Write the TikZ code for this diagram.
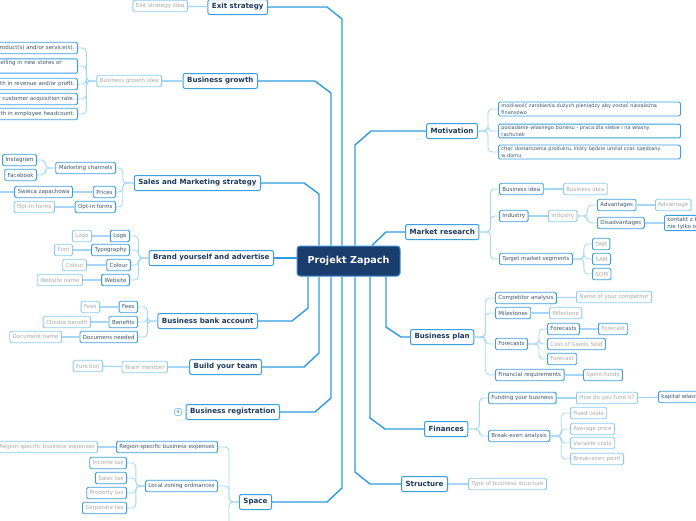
\documentclass[tikz,border=0pt]{standalone}
\usepackage{fontspec}
\setmainfont{DejaVu Sans}
\usepackage{xcolor}
\usepackage{tikz}
\usetikzlibrary{arrows.meta,positioning}

\definecolor{brblue}{HTML}{2E9BE0}
\definecolor{boxblue}{HTML}{3A9FE0}
\definecolor{ideablue}{HTML}{8CCBF2}
\definecolor{brklight}{HTML}{A5D6F5}
\definecolor{topictext}{HTML}{1E3A5F}
\definecolor{itemtext}{HTML}{3A5570}
\definecolor{ideagrey}{HTML}{A9A9A9}
\definecolor{rootfill}{HTML}{1A3D6D}
\definecolor{rootdraw}{HTML}{3B8ED3}

\begin{document}
\begin{tikzpicture}[x=1pt, y=-1pt, every node/.style={inner sep=2pt}]
        \tikzset{
            root/.style={draw=rootdraw, fill=rootfill, line width=1pt, rounded corners=3pt, text=white, font=\fontsize{9.6}{11}\selectfont\bfseries, minimum width=103pt, minimum height=30pt},
            topic/.style={draw=boxblue, fill=white, line width=1pt, rounded corners=2pt, text=topictext, font=\fontsize{7.1}{8}\selectfont\bfseries, inner xsep=4pt, minimum height=15pt},
            item/.style={draw=boxblue, fill=white, line width=0.9pt, rounded corners=1.5pt, text=itemtext, font=\fontsize{5.5}{7}\selectfont, inner xsep=3pt, inner ysep=1.5pt, minimum height=11.5pt},
            idea/.style={item, draw=ideablue, text=ideagrey},
            note/.style={item, font=\fontsize{5}{7}\selectfont, text width=176pt, align=left},
            count/.style={draw=ideablue, fill=white, line width=0.8pt, rounded corners=1.5pt, text=itemtext, font=\fontsize{4.5}{5}\selectfont, minimum size=7pt, inner sep=1pt},
            branch/.style={draw=brblue, line width=1.4pt},
            link/.style={draw=brklight, line width=1.2pt},
            brk/.style={draw=brklight, line width=0.9pt, rounded corners=4pt}
        }
        \useasboundingbox (0,0) rectangle (696,520);
        \node[root] (root) at (348.5,261) {Projekt Zapach};
        % left side
        \node[topic, anchor=east] (exit) at (268,7) {Exit strategy};
        \node[idea, anchor=east] (exitidea) at (188,6) {Exit strategy idea};
        \node[topic, anchor=east] (growth) at (258,81) {Business growth};
        \node[idea, anchor=east] (growthidea) at (162,81) {Business growth idea};
        \node[item, anchor=east] (gr1) at (78,48) {Launch new product(s) and/or service(s).};
        \node[item, anchor=east, text width=92pt, align=left] (gr2) at (78,66) {Start selling in new stores or\\\mbox{}};
        \node[item, anchor=east] (gr3) at (78,84) {Growth in revenue and/or profit.};
        \node[item, anchor=east] (gr4) at (78,99) {Increase your customer acquisition rate.};
        \node[item, anchor=east] (gr5) at (78,114) {Growth in employee headcount.};
        \node[topic, anchor=east] (sales) at (261,183) {Sales and Marketing strategy};
        \node[item, anchor=east] (mkt) at (116,168) {Marketing channels};
        \node[item, anchor=east] (prices) at (116,192) {Prices};
        \node[item, anchor=east] (optin) at (116,207) {Opt-in forms};
        \node[item, anchor=east] (insta) at (37,160) {Instagram};
        \node[item, anchor=east] (fb) at (37,175) {Facebook};
        \node[item, anchor=east] (swieca) at (73,192) {Świeca zapachowa};
        \coordinate (swmore) at (-4,192);
        \node[idea, anchor=east] (optinidea) at (55,207) {Opt-in forms};
        \node[topic, anchor=east] (brand) at (274,258) {Brand yourself and advertise};
        \node[item, anchor=east] (logo) at (130,236) {Logo};
        \node[item, anchor=east] (typo) at (130,250) {Typography};
        \node[item, anchor=east] (colour) at (131,265) {Colour};
        \node[item, anchor=east] (web) at (130,280) {Website};
        \node[idea, anchor=east] (logoidea) at (92,236) {Logo};
        \node[idea, anchor=east] (fontidea) at (73,250) {Font};
        \node[idea, anchor=east] (colouridea) at (87,265) {Colour};
        \node[idea, anchor=east] (webidea) at (83,280) {Website name};
        \node[topic, anchor=east] (bank) at (258,321) {Business bank account};
        \node[item, anchor=east] (fees) at (138,307) {Fees};
        \node[item, anchor=east] (benefits) at (138,322) {Benefits};
        \node[item, anchor=east] (docs) at (138,337) {Documens needed};
        \node[idea, anchor=east] (feesidea) at (100,307) {Fees};
        \node[idea, anchor=east] (benefitidea) at (91,322) {Choose benefit};
        \node[idea, anchor=east] (docidea) at (62,337) {Document name};
        \node[topic, anchor=east] (team) at (262,367) {Build your team};
        \node[idea, anchor=east] (member) at (168,367) {Team member};
        \node[idea, anchor=east] (function) at (103,366) {Function};
        \node[topic, anchor=east] (reg) at (280,412) {Business registration};
        \node[count, anchor=east] (regcount) at (182,412) {4};
        \node[topic, anchor=east] (space) at (272,502) {Space};
        \node[item, anchor=east] (region) at (218,447) {Region-specific business expenses};
        \node[item, anchor=east] (zoning) at (218,486) {Local zoning ordinances};
        \coordinate (spacemore) at (218,532);
        \node[idea, anchor=east] (regionidea) at (98,447) {Region-specific business expenses};
        \node[idea, anchor=east, draw=boxblue] (income) at (127,463) {Income tax};
        \node[idea, anchor=east, draw=boxblue] (salestax) at (127,478) {Sales tax};
        \node[idea, anchor=east, draw=boxblue] (proptax) at (127,493) {Property tax};
        \node[idea, anchor=east, draw=boxblue] (corptax) at (127,508) {Corporate tax};
        % right side
        \node[topic, anchor=west] (motiv) at (426,131) {Motivation};
        \node[note, anchor=west] (mot1) at (498,109) {możliwość zarobienia dużych pieniędzy aby zostać niezależną\\finansowo};
        \node[note, anchor=west] (mot2) at (498,131) {posiadanie własnego biznesu - praca dla siebie i na własny\\rachunek};
        \node[note, anchor=west] (mot3) at (498,152) {chęć dostarczenia produktu, który będzie umilał czas spędzany\\w domu};
        \node[topic, anchor=west] (market) at (405,232) {Market research};
        \node[item, anchor=west] (bidea) at (499,189) {Business idea};
        \node[item, anchor=west] (industry) at (499,216) {Industry};
        \node[item, anchor=west] (target) at (499,259) {Target market segments};
        \node[idea, anchor=west] (bideaidea) at (563,189) {Business idea};
        \node[idea, anchor=west] (industryidea) at (548,216) {Industry};
        \node[item, anchor=west] (adv) at (597,205) {Advantages};
        \node[item, anchor=west] (disadv) at (597,223) {Disadvantages};
        \node[idea, anchor=west] (advidea) at (655,205) {Advantage};
        \node[item, anchor=west, align=left] (kontakt) at (664,223) {kontakt z klientem\\nie tylko online};
        \node[idea, anchor=west, draw=boxblue] (tam) at (592,244) {TAM};
        \node[idea, anchor=west, draw=boxblue] (sam) at (592,259) {SAM};
        \node[idea, anchor=west, draw=boxblue] (som) at (592,274) {SOM};
        \node[topic, anchor=west] (plan) at (410,337) {Business plan};
        \node[item, anchor=west] (compet) at (495,298) {Competitor analysis};
        \node[item, anchor=west] (milest) at (495,313) {Milestones};
        \node[item, anchor=west] (fcasts) at (495,344) {Forecasts};
        \node[item, anchor=west] (finreq) at (495,375) {Financial requirements};
        \node[idea, anchor=west] (competidea) at (576,297) {Name of your competitor};
        \node[idea, anchor=west] (milestidea) at (549,313) {Milestone};
        \node[item, anchor=west] (fcasts2) at (547,329) {Forecasts};
        \node[idea, anchor=west, draw=boxblue] (cogs) at (547,344) {Cost of Goods Sold};
        \node[idea, anchor=west, draw=boxblue] (fcast3) at (547,359) {Forecast};
        \node[idea, anchor=west, draw=boxblue] (fcastidea) at (598,329) {Forecast};
        \node[idea, anchor=west, draw=boxblue] (spent) at (583,375) {Spent funds};
        \node[topic, anchor=west] (fin) at (424,429) {Finances};
        \node[item, anchor=west] (funding) at (488,398) {Funding your business};
        \node[item, anchor=west] (breakeven) at (488,436) {Break-even analysis};
        \node[idea, anchor=west] (howfund) at (576,398) {How do you fund it?};
        \node[item, anchor=west] (kapital) at (658,397) {kapitał własny};
        \node[idea, anchor=west] (fixed) at (570,413) {Fixed costs};
        \node[idea, anchor=west] (avgprice) at (570,429) {Average price};
        \node[idea, anchor=west] (varcosts) at (570,443) {Variable costs};
        \node[idea, anchor=west] (bepoint) at (570,459) {Break-even point};
        \node[topic, anchor=west] (struct) at (401,484) {Structure};
        \node[idea, anchor=west] (structidea) at (468,484) {Type of business structure};
        % main branches
        \draw[branch] (exit.east) -- (327,7) -- (342,19) -- ([xshift=-6.5pt]root.north);
        \draw[branch] (growth.east) -- (315,81) -- (331,93) -- ([xshift=-17.5pt]root.north);
        \draw[branch] (sales.east) -- (304,183) -- (319,194) -- ([xshift=-29.5pt]root.north);
        \draw[branch] (brand.east) -- (brand.east -| root.west);
        \draw[branch] (bank.east) -- (292,321) -- (308,308) -- ([xshift=-40.5pt]root.south);
        \draw[branch] (team.east) -- (304,367) -- (319,353) -- ([xshift=-29.5pt]root.south);
        \draw[branch] (reg.east) -- (315,412) -- (331,398) -- ([xshift=-17.5pt]root.south);
        \draw[branch] (space.east) -- (327,502) -- (342,488) -- ([xshift=-6.5pt]root.south);
        \draw[branch] (motiv.west) -- (371,131) -- (355,145) -- ([xshift=6.5pt]root.north);
        \draw[branch] (market.west) -- (386,232) -- ([xshift=23.5pt]root.north);
        \draw[branch] (plan.west) -- (401,337) -- (386,327) -- ([xshift=37.5pt]root.south);
        \draw[branch] (fin.west) -- (385,429) -- (370,418) -- ([xshift=21.5pt]root.south);
        \draw[branch] (struct.west) -- (370,484) -- (355,472) -- ([xshift=6.5pt]root.south);
        % single links
        \draw[link] (exit) -- (exitidea);
        \draw[link] (growth) -- (growthidea);
        \draw[link] (team) -- (member);
        \draw[link] (member) -- (function);
        \draw[link] (prices) -- (swieca);
        \draw[link] (swieca) -- (swmore);
        \draw[link] (optin) -- (optinidea);
        \draw[link] (logo) -- (logoidea);
        \draw[link] (typo) -- (fontidea);
        \draw[link] (colour) -- (colouridea);
        \draw[link] (web) -- (webidea);
        \draw[link] (fees) -- (feesidea);
        \draw[link] (benefits) -- (benefitidea);
        \draw[link] (docs) -- (docidea);
        \draw[link] (region) -- (regionidea);
        \draw[link] (bidea) -- (bideaidea);
        \draw[link] (industry) -- (industryidea);
        \draw[link] (adv) -- (advidea);
        \draw[link] (disadv) -- (kontakt.west |- disadv);
        \draw[link] (compet) -- (competidea);
        \draw[link] (milest) -- (milestidea);
        \draw[link] (fcasts2) -- (fcastidea);
        \draw[link] (finreq) -- (spent);
        \draw[link] (funding) -- (howfund);
        \draw[link] (howfund) -- (kapital);
        \draw[link] (struct) -- (structidea);
        % brackets
        \foreach \c in {gr1,gr2,gr3,gr4,gr5} \draw[brk] (growthidea.west) -- ++(-10pt,0) |- (\c.east);
        \foreach \c in {mkt,prices,optin} \draw[brk] (sales.west) -- ++(-11pt,0) |- (\c.east);
        \foreach \c in {insta,fb} \draw[brk] (mkt.west) -- ++(-10pt,0) |- (\c.east);
        \foreach \c in {logo,typo,colour,web} \draw[brk] (brand.west) -- ++(-10pt,0) |- (\c.east);
        \foreach \c in {fees,benefits,docs} \draw[brk] (bank.west) -- ++(-10pt,0) |- (\c.east);
        \foreach \c in {region,zoning,spacemore} \draw[brk] (space.west) -- ++(-10pt,0) |- (\c);
        \foreach \c in {income,salestax,proptax,corptax} \draw[brk] (zoning.west) -- ++(-9pt,0) |- (\c.east);
        \foreach \c in {mot1,mot2,mot3} \draw[brk] (motiv.east) -- ++(10pt,0) |- (\c.west);
        \foreach \c in {bidea,industry,target} \draw[brk] (market.east) -- ++(11pt,0) |- (\c.west);
        \foreach \c in {adv,disadv} \draw[brk] (industryidea.east) -- ++(10pt,0) |- (\c.west);
        \foreach \c in {tam,sam,som} \draw[brk] (target.east) -- ++(11pt,0) |- (\c.west);
        \foreach \c in {compet,milest,fcasts,finreq} \draw[brk] (plan.east) -- ++(11pt,0) |- (\c.west);
        \foreach \c in {fcasts2,cogs,fcast3} \draw[brk] (fcasts.east) -- ++(11pt,0) |- (\c.west);
        \foreach \c in {funding,breakeven} \draw[brk] (fin.east) -- ++(11pt,0) |- (\c.west);
        \foreach \c in {fixed,avgprice,varcosts,bepoint} \draw[brk] (breakeven.east) -- ++(11pt,0) |- (\c.west);
    \end{tikzpicture}
\end{document}
